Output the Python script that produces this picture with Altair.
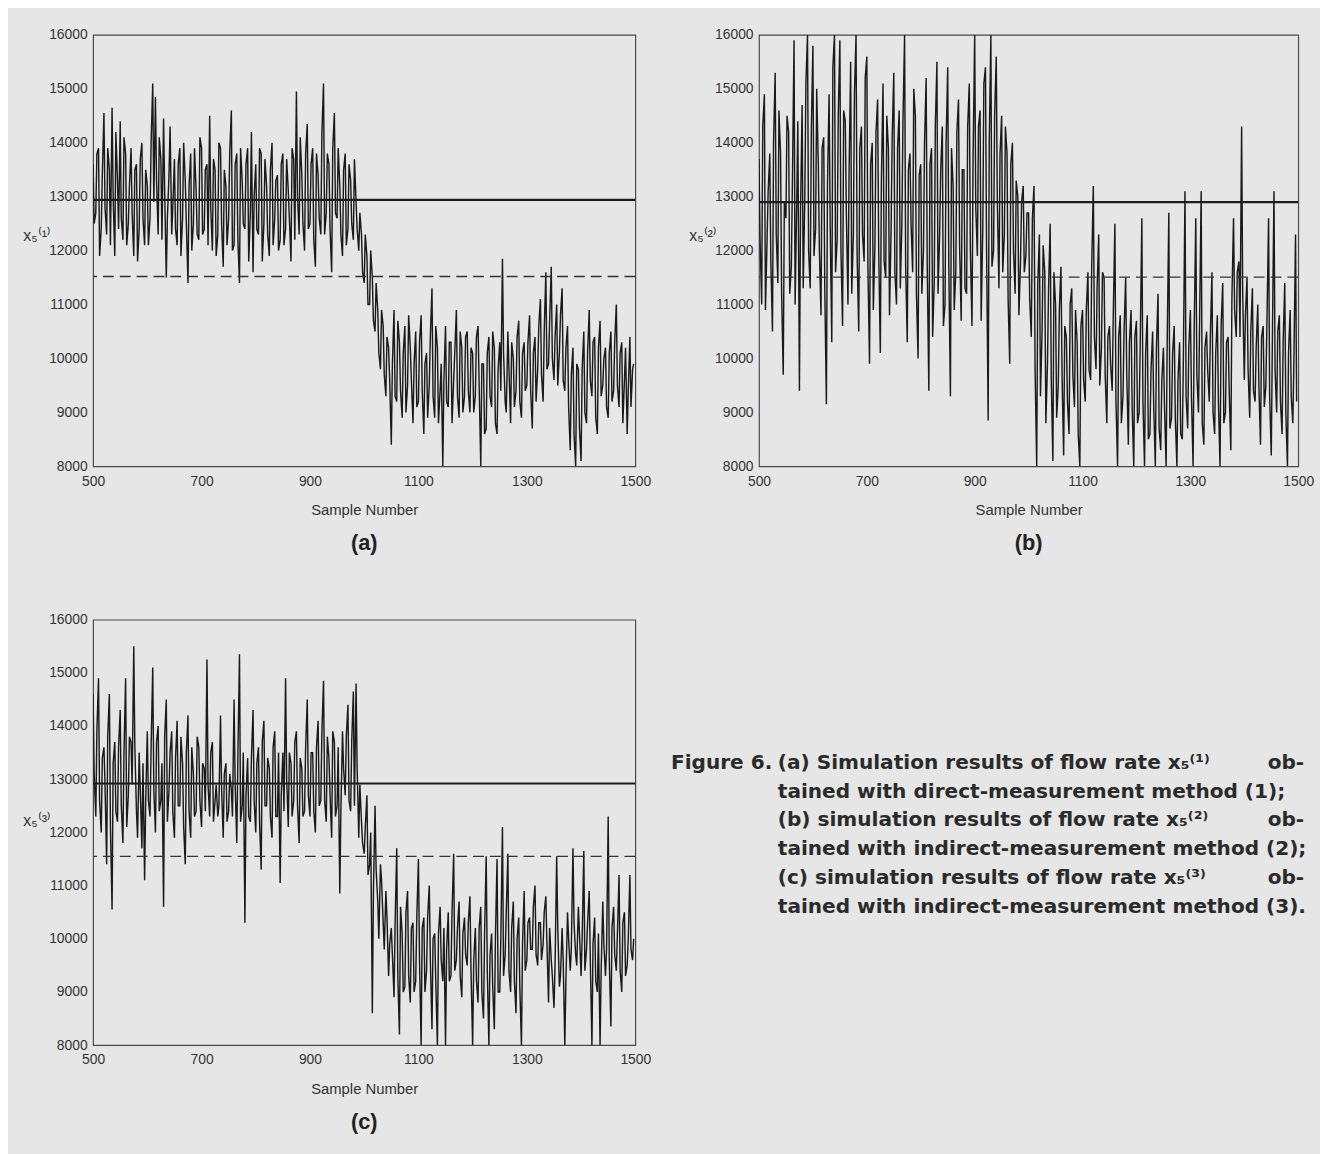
import altair as alt
import pandas as pd

# ---------------- data ----------------
SAMPLES = list(range(500, 1500, 5))        # samples 500, 505, ...
SAMPLES_MID = list(range(502, 1500, 5))    # samples 502, 507, ...
X_TICKS = [500, 700, 900, 1100, 1300, 1500]
Y_TICKS = [8000, 9000, 10000, 11000, 12000, 13000, 14000, 15000, 16000]

X5_A = [
    13600, 12700, 13900, 12400, 14550, 12300, 13500, 14650, 11900, 13300,
    14400, 12200, 13800, 12500, 13900, 11900, 13600, 12400, 14000, 12100,
    13200, 12600, 15100, 14850, 12300, 13700, 14450, 11500, 13400, 12300,
    13700, 12100, 13900, 12600, 13300, 11400, 13800, 12500, 13100, 12200,
    13900, 12400, 13600, 14500, 12000, 13500, 12300, 13900, 11700, 13200,
    12600, 14600, 12100, 13800, 11400, 13300, 12400, 13900, 12700, 11600,
    13600, 12300, 13800, 12500, 13200, 11900, 14000, 12600, 13400, 12200,
    13800, 12400, 13100, 11800, 13700, 14950, 12300, 13400, 12000, 14350,
    12500, 13900, 11700, 13400, 12300, 15100, 12700, 13600, 11600, 14550,
    12600, 13200, 11900, 13800, 12400, 13300, 12200, 12900, 12000, 12300,
    11400, 11900, 11000, 11500, 10500, 10900, 9800, 10600, 9300, 10200,
    8400, 10900, 9200, 10300, 8900, 10600, 9500, 10200, 8800, 10500,
    9200, 10800, 8600, 10100, 9500, 11300, 8900, 10200, 9400, 8000,
    10600, 9100, 10300, 9600, 10900, 8900, 10200, 9300, 10500, 9000,
    10100, 9300, 10600, 8000, 9900, 8700, 10400, 9100, 10200, 8600,
    10300, 11850, 9200, 10500, 8800, 10000, 9400, 10700, 8900, 10300,
    9500, 10800, 8700, 10400, 9800, 11100, 9200, 11600, 9900, 11700,
    9600, 11000, 10100, 11300, 9400, 10600, 8300, 10200, 8000, 9800,
    8100, 10500, 8800, 10900, 9300, 10400, 8600, 10700, 9500, 10200,
    8900, 10500, 9400, 11000, 9100, 10300, 9600, 8600, 10400, 9800,
]
X5_A_MID = [
    12500, 13800, 11900, 13400, 12800, 13900, 12100, 13000, 14200, 12400,
    12600, 14100, 12100, 13200, 12700, 13500, 11800, 13700, 12600, 13500,
    12100, 14000, 12900, 13300, 14100, 12200, 13100, 12600, 14300, 12800,
    12400, 13600, 11900, 14000, 12500, 13200, 12000, 13900, 12300, 14100,
    12300, 13500, 12100, 12800, 13700, 11900, 14000, 12500, 13500, 12100,
    13800, 12000, 13600, 12200, 13900, 12500, 13600, 11800, 14200, 13000,
    12400, 13900, 11800, 13700, 12300, 13500, 12100, 13300, 12000, 13600,
    12100, 13700, 12600, 13900, 12200, 13000, 14100, 12500, 13800, 12400,
    13600, 12200, 13800, 12600, 14200, 12300, 13800, 12400, 13900, 12700,
    13900, 12300, 13500, 12100, 13600, 12500, 13700, 12400, 12700, 11600,
    12300, 11000, 12000, 10700, 11400, 10100, 10900, 9700, 10400, 9600,
    9900, 9300, 10700, 9400, 10100, 9000, 10800, 9600, 9900, 9100,
    10300, 9400, 9900, 8900, 10400, 9300, 10600, 8800, 9900, 9600,
    9200, 10300, 8800, 10100, 9300, 10500, 9000, 10400, 9400, 10200,
    9000, 10400, 9500, 9900, 8600, 10100, 9300, 10500, 8800, 9800,
    9400, 10100, 9000, 9800, 10300, 9100, 10400, 9200, 10100, 9400,
    10300, 9400, 10100, 9200, 10600, 9700, 10500, 9800, 10700, 10000,
    10400, 9500, 10800, 9600, 10200, 9100, 9700, 8600, 9900, 8700,
    9800, 9000, 10100, 9600, 10300, 8900, 10200, 9300, 10000, 9100,
    10100, 9200, 10300, 9500, 10100, 8800, 10200, 9400, 9100, 9900,
]

X5_B = [
    13700, 11000, 14900, 12200, 13800, 10500, 15300, 11400, 13800, 9700,
    12600, 14200, 11700, 15900, 12900, 9400, 14700, 13000, 16000, 11300,
    15800, 12400, 13600, 10800, 14100, 9150, 14900, 10300, 16000, 12200,
    15900, 10600, 14400, 11000, 15500, 12300, 16000, 10500, 14300, 11800,
    15600, 9900, 14000, 12100, 14800, 10100, 15100, 11500, 13900, 12400,
    15300, 11000, 14600, 12500, 16000, 10300, 13800, 11600, 14500, 10000,
    13600, 12000, 15200, 9400, 13900, 11400, 15500, 12300, 14300, 11000,
    15400, 9300, 13200, 11600, 14800, 10700, 13500, 11200, 15100, 10600,
    16000, 11900, 14600, 12400, 15400, 8850, 16000, 12000, 15600, 11300,
    14500, 12300, 13800, 9900, 14000, 11200, 13000, 11800, 13200, 11900,
    12700, 10400, 13200, 8000, 12300, 10500, 11600, 9900, 12500, 8100,
    11000, 9500, 11700, 8200, 10400, 8600, 11300, 9100, 10300, 8000,
    10900, 9200, 11600, 9600, 13200, 9800, 12300, 10200, 11500, 8800,
    10600, 9400, 12500, 8000, 10800, 9300, 11500, 8400, 10900, 8000,
    10700, 9000, 12600, 8000, 10800, 8600, 10500, 8000, 11200, 8300,
    10200, 8000, 12700, 8900, 10600, 8000, 10300, 8500, 13100, 8700,
    10900, 8000, 12600, 9000, 13100, 8400, 10500, 9200, 11600, 8600,
    10800, 8000, 11400, 9000, 10400, 8300, 12600, 10400, 11800, 14300,
    9600, 11500, 8900, 11300, 9200, 11000, 8400, 10600, 9500, 12600,
    8200, 13100, 9000, 10800, 8600, 11400, 8000, 10900, 8800, 12300,
]
X5_B_MID = [
    12200, 14300, 10900, 13100, 11800, 14000, 12300, 14600, 11200, 12900,
    14500, 11200, 13300, 11000, 14400, 12700, 11300, 15100, 12000, 14200,
    11900, 15000, 12000, 13900, 11300, 13200, 12500, 15400, 11600, 14500,
    12000, 14600, 12700, 13400, 11200, 14900, 11900, 13900, 12300, 15200,
    11700, 13600, 10900, 14200, 12000, 13300, 11800, 14500, 10800, 14100,
    11600, 13900, 11300, 14400, 11700, 13500, 12500, 15000, 11200, 13400,
    11200, 14000, 11700, 13600, 10400, 14300, 11200, 13500, 10600, 14000,
    11700, 13900, 10900, 14200, 12100, 13500, 11300, 14300, 12000, 13700,
    12800, 14300, 10700, 15100, 12100, 14000, 11700, 14500, 12900, 13800,
    11600, 14300, 11100, 13600, 12000, 13300, 10800, 12900, 11600, 12700,
    11100, 12600, 9800, 11400, 9300, 12100, 8800, 11300, 9600, 11600,
    8900, 10900, 9700, 10600, 9200, 11000, 9700, 10900, 8600, 10600,
    9600, 10900, 9800, 11700, 10400, 11300, 9500, 11600, 9700, 10400,
    9900, 10800, 9200, 10400, 8800, 10500, 9700, 10300, 9100, 10400,
    8800, 10300, 9200, 10100, 8500, 9800, 9100, 10200, 8700, 9600,
    9100, 10300, 8700, 10100, 8900, 9600, 8600, 10000, 9300, 10200,
    9300, 10500, 9700, 10600, 8800, 10200, 9800, 10400, 9000, 10100,
    9200, 10600, 8800, 10300, 9400, 11100, 10900, 11600, 10400, 11200,
    10800, 9800, 10500, 9400, 10200, 9500, 10400, 9100, 10700, 9300,
    10300, 9800, 10500, 9200, 10300, 9000, 10100, 9300, 10000, 9200,
]

X5_C = [
    14600, 12300, 14900, 12000, 13600, 11400, 14600, 10550, 13700, 12200,
    14300, 11800, 14900, 12700, 13700, 15500, 12400, 13500, 11700, 11100,
    13900, 12300, 15100, 12000, 14000, 12600, 10600, 14500, 12800, 13900,
    11900, 14100, 12500, 13300, 11400, 14200, 11900, 13100, 12400, 13600,
    12100, 13200, 15250, 12300, 13700, 12600, 12300, 14200, 11900, 13300,
    12400, 12800, 14500, 11800, 15350, 12500, 10300, 13400, 12200, 14300,
    12000, 13600, 11300, 14100, 12500, 13200, 11900, 13900, 12300, 11050,
    13500, 14900, 12100, 13300, 12600, 13900, 11800, 13200, 12400, 14500,
    12300, 13500, 12000, 14100, 12600, 14850, 12200, 13400, 11900, 13700,
    12500, 10850, 13900, 12700, 14400, 12400, 14650, 14800, 11900, 12200,
    11600, 12700, 11400, 8600, 12500, 10700, 11400, 10300, 10900, 9300,
    10200, 8900, 11700, 8200, 10100, 9100, 10900, 8800, 10300, 9200,
    11500, 8000, 10400, 9400, 11000, 8300, 10100, 8000, 10600, 9200,
    8000, 10500, 9300, 11600, 9600, 10700, 8900, 10400, 9500, 10800,
    8000, 10200, 8800, 10600, 8500, 11550, 8000, 10100, 8300, 11500,
    9000, 12100, 9700, 11600, 9000, 10700, 8600, 10400, 8000, 10900,
    9600, 10400, 9800, 11000, 9500, 10300, 9900, 10800, 8800, 9600,
    8700, 11550, 9100, 10200, 8000, 10500, 9400, 11700, 9700, 10600,
    9300, 11650, 9800, 10900, 8000, 10400, 9000, 8000, 10700, 9300,
    12300, 8350, 10600, 9400, 11200, 9000, 10500, 9500, 11200, 9600,
]
X5_C_MID = [
    13100, 13900, 12600, 13400, 12900, 13800, 12100, 13300, 12400, 13600,
    12500, 13500, 12100, 13800, 12900, 13600, 11900, 12800, 13300, 12600,
    12600, 13600, 12800, 13700, 12400, 13300, 13800, 12200, 13500, 12400,
    13400, 12500, 13800, 12100, 13500, 12400, 13600, 12300, 13800, 12600,
    13300, 12400, 12900, 13500, 12200, 12900, 12500, 12800, 13100, 12200,
    13100, 12300, 12900, 13400, 12200, 13500, 12700, 12300, 13400, 12600,
    13300, 12200, 13700, 12500, 13400, 12300, 13600, 12300, 13500, 12700,
    12400, 13000, 13500, 12300, 13700, 12500, 13400, 12300, 13600, 12700,
    13500, 12400, 13600, 12500, 13900, 12600, 13800, 12700, 13900, 12300,
    13600, 12400, 13200, 13800, 12600, 13700, 12500, 13200, 12900, 11800,
    12100, 11200, 12000, 10900, 11300, 10000, 11100, 9800, 10400, 9900,
    9700, 10300, 9300, 10600, 9000, 10500, 9300, 10200, 9000, 10400,
    9600, 10200, 9000, 10400, 9600, 10000, 9200, 10100, 9600, 10200,
    9800, 9200, 10500, 9400, 10200, 9300, 10100, 9700, 10300, 9400,
    9600, 9200, 10200, 9000, 10100, 9400, 9700, 9100, 10000, 9000,
    10000, 9300, 10500, 9400, 10200, 9200, 10000, 9100, 9900, 9400,
    10300, 9800, 10600, 9700, 10300, 9600, 10500, 9900, 10200, 9300,
    9500, 10200, 9300, 9600, 9200, 10000, 9800, 10300, 9500, 10100,
    10000, 9400, 10300, 9600, 9900, 9200, 10100, 9400, 9900, 9800,
    9600, 10200, 9700, 10100, 9400, 10300, 9300, 10000, 9800, 10000,
]

SOLID_LEVELS = [12940, 12900, 12920]
DASHED_LEVELS = [11520, 11510, 11550]
Y_TITLES = ["x₅⁽¹⁾", "x₅⁽²⁾", "x₅⁽³⁾"]
PANEL_LETTERS = ["(a)", "(b)", "(c)"]
X_TITLE = "Sample Number"

CAPTION_LEAD = "Figure 6."
CAPTION_LINES = [
    "(a) Simulation results of flow rate x₅⁽¹⁾",
    "tained with direct-measurement method (1);",
    "(b) simulation results of flow rate x₅⁽²⁾",
    "tained with indirect-measurement method (2);",
    "(c) simulation results of flow rate x₅⁽³⁾",
    "tained with indirect-measurement method (3).",
]
CAPTION_HYPHEN = "ob-"

for arr in (X5_A, X5_B, X5_C):
    assert len(arr) == len(SAMPLES)
for arr in (X5_A_MID, X5_B_MID, X5_C_MID):
    assert len(arr) == len(SAMPLES_MID)

FONT = "Liberation Sans"
CAP_FONT = "DejaVu Sans"
INK = "#1a1a1a"
BG = "#e6e6e6"


def panel(values, mid_values, solid, dashed, ytitle, letter, w, h):
    df = pd.concat([
        pd.DataFrame({"sample": SAMPLES, "x5": values}),
        pd.DataFrame({"sample": SAMPLES_MID, "x5": mid_values}),
    ]).sort_values("sample")
    x = alt.X(
        "sample:Q",
        scale=alt.Scale(domain=[500, 1500], nice=False, zero=False),
        axis=alt.Axis(
            values=X_TICKS, format="d", title=X_TITLE, ticks=False, domain=False,
            grid=False, labelFlush=False, labelPadding=8, titlePadding=15,
            labelFontSize=14, titleFontSize=15, titleFontWeight="normal",
            labelColor="#333333", titleColor="#333333", labelFont=FONT, titleFont=FONT,
        ),
    )
    y = alt.Y(
        "x5:Q",
        scale=alt.Scale(domain=[8000, 16000], nice=False, zero=False),
        axis=alt.Axis(
            values=Y_TICKS, format="d", title=ytitle, ticks=False, domain=False,
            grid=False, labelFlush=False, labelPadding=6, labelFontSize=14,
            labelColor="#333333", labelFont=FONT, titleFont=FONT,
            titleFontSize=16, titleFontWeight="normal", titleColor="#333333",
            titleAngle=0, titleAlign="left", titleBaseline="middle",
            titleX=-71, titleY=203,
        ),
    )
    line = alt.Chart(df).mark_line(color=INK, strokeWidth=1.45, clip=True).encode(x=x, y=y)
    solid_rule = alt.Chart(pd.DataFrame({"x5": [solid]})).mark_rule(
        color="#1c1c1c", strokeWidth=2.2
    ).encode(y=alt.Y("x5:Q", title=ytitle))
    dashed_rule = alt.Chart(pd.DataFrame({"x5": [dashed]})).mark_rule(
        color="#333333", strokeWidth=1.3, strokeDash=[11, 6]
    ).encode(y=alt.Y("x5:Q", title=ytitle))
    return alt.layer(line, solid_rule, dashed_rule).properties(
        width=w, height=h,
        title=alt.TitleParams(letter, orient="bottom", fontSize=22, fontWeight="bold",
                              font=FONT, color="#222222", offset=16),
    )


pa = panel(X5_A, X5_A_MID, SOLID_LEVELS[0], DASHED_LEVELS[0], Y_TITLES[0], PANEL_LETTERS[0], 548, 436)
pb = panel(X5_B, X5_B_MID, SOLID_LEVELS[1], DASHED_LEVELS[1], Y_TITLES[1], PANEL_LETTERS[1], 545, 436)
pc = panel(X5_C, X5_C_MID, SOLID_LEVELS[2], DASHED_LEVELS[2], Y_TITLES[2], PANEL_LETTERS[2], 548, 430)

# caption block
cap_layers = []
txt_style = dict(baseline="middle", fontSize=20.3, fontWeight="bold", color="#2b2b2b", font=CAP_FONT)
cap_layers.append(
    alt.Chart(pd.DataFrame({"t": [CAPTION_LEAD]})).mark_text(align="left", **txt_style)
    .encode(x=alt.value(8), y=alt.value(145), text="t:N")
)
for i, line_text in enumerate(CAPTION_LINES):
    cap_layers.append(
        alt.Chart(pd.DataFrame({"t": [line_text]})).mark_text(align="left", **txt_style)
        .encode(x=alt.value(116), y=alt.value(145 + 29 * i), text="t:N")
    )
    if i % 2 == 0:
        cap_layers.append(
            alt.Chart(pd.DataFrame({"t": [CAPTION_HYPHEN]})).mark_text(align="right", **txt_style)
            .encode(x=alt.value(648), y=alt.value(145 + 29 * i), text="t:N")
        )
caption = alt.layer(*cap_layers).properties(
    width=650, height=420, view=alt.ViewBackground(stroke="transparent")
)

chart = alt.vconcat(
    alt.hconcat(pa, pb, spacing=36),
    alt.hconcat(pc, caption, spacing=10),
    spacing=57,
).properties(
    padding={"left": 14, "top": 13, "right": 5, "bottom": 30},
    background=BG,
).configure(font=FONT).configure_view(stroke="#4a4a4a", strokeWidth=1.2)

chart.save("out.html", embed_options={"renderer": "svg", "actions": False})
